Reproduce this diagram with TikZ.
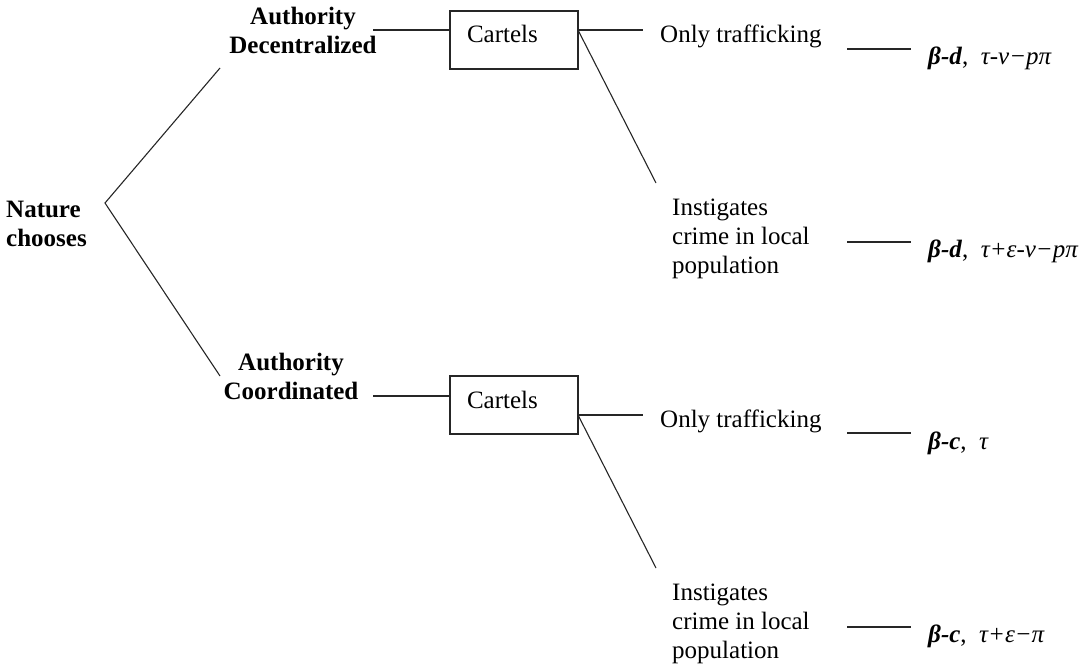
\documentclass[tikz,border=0pt]{standalone}
\usepackage{fontspec}
\setmainfont{Liberation Serif}
\begin{document}
\begin{tikzpicture}[x=1pt,y=-1pt,
  txt/.style={inner sep=0pt, font=\fontsize{25}{29}\selectfont},
  bold/.style={txt, font=\fontsize{25}{29}\selectfont\bfseries},
  cbox/.style={draw=black!85, line width=1.2pt, minimum width=128pt, minimum height=58pt,
     inner xsep=17pt, inner ysep=0pt, text width=94pt, align=left,
     text height=17pt, text depth=11pt, font=\fontsize{25}{29}\selectfont},
  edge/.style={draw=black!85, line width=1.1pt},
  pay/.style={txt, anchor=base west}]
\useasboundingbox (0,0) rectangle (1079,666);

% nature
\node[bold, anchor=north west, align=left] (nat) at (6,196.7) {\strut Nature\\\strut chooses};
\coordinate (nv) at (105,203);
\coordinate (adT) at (220,68);
\coordinate (acT) at (220,376);
\draw[edge] (adT) -- (nv) -- (acT);

% authority nodes
\node[bold, anchor=north, align=center] (ad) at (303,3.7) {\strut Authority\\\strut Decentralized};
\node[bold, anchor=north, align=center] (ac) at (291,349.7) {\strut Authority\\\strut Coordinated};

% cartel boxes
\node[cbox] (c1) at (514,40) {Cartels};
\node[cbox] (c2) at (514,405) {Cartels};

\coordinate (adE) at (373,30);
\coordinate (acE) at (373,396);
\draw[edge] (adE) -- (adE -| c1.west);
\draw[edge] (acE) -- (acE -| c2.west);

% actions
\node[txt, anchor=base west] (ot1) at (660,43) {Only trafficking};
\node[txt, anchor=base west] (ot2) at (660,427) {Only trafficking};
\node[txt, anchor=north west, align=left] (ic1) at (672,194.7) {\strut Instigates\\\strut crime in local\\\strut population};
\node[txt, anchor=north west, align=left] (ic2) at (672,579.7) {\strut Instigates\\\strut crime in local\\\strut population};

\coordinate (c1o) at (578,30);
\coordinate (c2o) at (578,415);
\coordinate (ot1L) at (643,30);
\coordinate (ot2L) at (643,415);
\coordinate (ic1T) at (656,183);
\coordinate (ic2T) at (656,568);
\draw[edge] (c1o) -- (ot1L);
\draw[edge] (c1o) -- (ic1T);
\draw[edge] (c2o) -- (ot2L);
\draw[edge] (c2o) -- (ic2T);

% payoffs
\node[pay] (p1) at (928,65) {\textbf{\textit{β-d}},\ \ \textit{τ-ν−pπ}};
\node[pay] (p2) at (928,257) {\textbf{\textit{β-d}},\ \ \textit{τ+ε-ν−pπ}};
\node[pay] (p3) at (928,449) {\textbf{\textit{β-c}},\ \ \textit{τ}};
\node[pay] (p4) at (928,642) {\textbf{\textit{β-c}},\ \ \textit{τ+ε−π}};

\coordinate (l1a) at (847,49);  \coordinate (l1b) at (911,49);
\coordinate (l2a) at (847,242); \coordinate (l2b) at (911,242);
\coordinate (l3a) at (847,433); \coordinate (l3b) at (911,433);
\coordinate (l4a) at (847,627); \coordinate (l4b) at (911,627);
\draw[edge] (l1a) -- (l1b);
\draw[edge] (l2a) -- (l2b);
\draw[edge] (l3a) -- (l3b);
\draw[edge] (l4a) -- (l4b);
\end{tikzpicture}
\end{document}
